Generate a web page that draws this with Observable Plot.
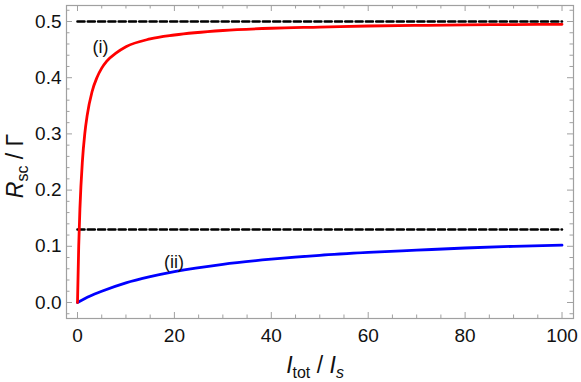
<!DOCTYPE html>
<html>
<head>
<meta charset="utf-8">
<script src="https://cdn.jsdelivr.net/npm/d3@7"></script>
<script src="https://cdn.jsdelivr.net/npm/@observablehq/plot@0.6"></script>
<style>
  body { margin: 0; background: #fff; }
  svg { font-family: "Liberation Sans", Arial, sans-serif; }
</style>
</head>
<body>
<div id="chart"></div>
<script>
// Curve (i): red, saturating toward 0.5
const redX = [0, 0.25, 0.5, 1, 1.5, 2, 3, 4, 5, 6, 8, 10, 15, 20, 30, 40, 50, 60, 70, 80, 90, 100];
const redY = [0, 0.100, 0.167, 0.250, 0.300, 0.333, 0.375, 0.400, 0.417, 0.429, 0.444, 0.455, 0.469, 0.476, 0.484, 0.488, 0.490, 0.492, 0.493, 0.494, 0.4945, 0.495];
// Curve (ii): blue, saturating toward 0.13
const blueX = [0, 2.5, 5, 10, 15, 20, 30, 40, 50, 60, 70, 80, 90, 100];
const blueY = [0, 0.011, 0.020, 0.035, 0.046, 0.055, 0.068, 0.077, 0.084, 0.089, 0.093, 0.097, 0.100, 0.102];
// Asymptotes (dashed)
const asymptotes = [0.5, 0.13];
const asymX = [0, 100];
// Ticks
const xMajor = [0, 20, 40, 60, 80, 100];
const xMinor = [-5, 5, 10, 15, 25, 30, 35, 45, 50, 55, 65, 70, 75, 85, 90, 95];
const yMajor = [0, 0.1, 0.2, 0.3, 0.4, 0.5];
const yMinor = [-0.02, 0.02, 0.04, 0.06, 0.08, 0.12, 0.14, 0.16, 0.18, 0.22, 0.24, 0.26, 0.28, 0.32, 0.34, 0.36, 0.38, 0.42, 0.44, 0.46, 0.48, 0.52];
// Labels
const labels = [{x: 4.75, y: 0.455, text: "(i)"}, {x: 19.9, y: 0.0717, text: "(ii)"}];

const red = redX.map((x, i) => ({x, y: redY[i]}));
const blue = blueX.map((x, i) => ({x, y: blueY[i]}));
const dashed = asymptotes.flatMap(v => asymX.map(x => ({x, y: v, k: v})));

const xd = [-2.27, 102.37], yd = [-0.0285, 0.5285];
const W = 581, H = 382, ml = 66, mr = 8, mt = 5, mb = 64;
const pxX = (xd[1] - xd[0]) / (W - ml - mr);
const pxY = (yd[1] - yd[0]) / (H - mt - mb);
const tickColor = "#a0a0a0";

const majLen = 6, minLen = 3.5;
const xTicks = (vals, len) => [
  Plot.ruleX(vals, {y1: yd[0], y2: yd[0] + len * pxY, stroke: tickColor, strokeWidth: 1}),
  Plot.ruleX(vals, {y1: yd[1], y2: yd[1] - len * pxY, stroke: tickColor, strokeWidth: 1})
];
const yTicks = (vals, len) => [
  Plot.ruleY(vals, {x1: xd[0], x2: xd[0] + len * pxX, stroke: tickColor, strokeWidth: 1}),
  Plot.ruleY(vals, {x1: xd[1], x2: xd[1] - len * pxX, stroke: tickColor, strokeWidth: 1})
];

const svg = Plot.plot({
  width: W, height: H,
  marginLeft: ml, marginRight: mr, marginTop: mt, marginBottom: mb,
  style: {fontFamily: "'Liberation Sans', Arial, sans-serif", background: "#fff"},
  x: {domain: xd, label: null},
  y: {domain: yd, label: null},
  marks: [
    Plot.frame({stroke: tickColor, strokeWidth: 1.2}),
    ...xTicks(xMajor, majLen), ...xTicks(xMinor.filter(v => v > xd[0]), minLen),
    ...yTicks(yMajor, majLen), ...yTicks(yMinor.filter(v => v > yd[0] && v < yd[1]), minLen),
    Plot.axisX(xMajor, {tickSize: 0, tickPadding: 10, fontSize: 19, fill: "#111", label: null}),
    Plot.axisY(yMajor, {tickSize: 0, tickPadding: 5, fontSize: 19, fill: "#111", label: null, tickFormat: d3.format(".1f")}),
    Plot.line(dashed, {x: "x", y: "y", z: "k", stroke: "black", strokeWidth: 2.6, strokeDasharray: "7,3.3"}),
    Plot.line(blue, {x: "x", y: "y", stroke: "#0000ff", strokeWidth: 2.8, curve: "monotone-x"}),
    Plot.line(red, {x: "x", y: "y", stroke: "#ff0000", strokeWidth: 2.8, curve: "monotone-x"}),
    Plot.text(labels, {x: "x", y: "y", text: "text", fontSize: 18, fill: "#111"})
  ]
});

const s = d3.select(svg);
// x axis title
const xt = s.append("text").attr("x", 315).attr("y", 373)
  .attr("text-anchor", "middle").attr("font-size", 23).attr("fill", "#111");
xt.append("tspan").attr("font-style", "italic").text("I");
xt.append("tspan").attr("font-size", 16).attr("dy", 5).text("tot");
xt.append("tspan").attr("dy", -5).text(" / ");
xt.append("tspan").attr("font-style", "italic").text("I");
xt.append("tspan").attr("font-size", 16).attr("font-style", "italic").attr("dy", 5).text("s");
// y axis title
const yt = s.append("text").attr("transform", `translate(23,166) rotate(-90)`)
  .attr("text-anchor", "middle").attr("font-size", 23).attr("fill", "#111");
yt.append("tspan").attr("font-style", "italic").text("R");
yt.append("tspan").attr("font-size", 16).attr("dy", 5).text("sc");
yt.append("tspan").attr("dy", -5).text(" / Γ");

document.getElementById("chart").appendChild(svg);
</script>
</body>
</html>
